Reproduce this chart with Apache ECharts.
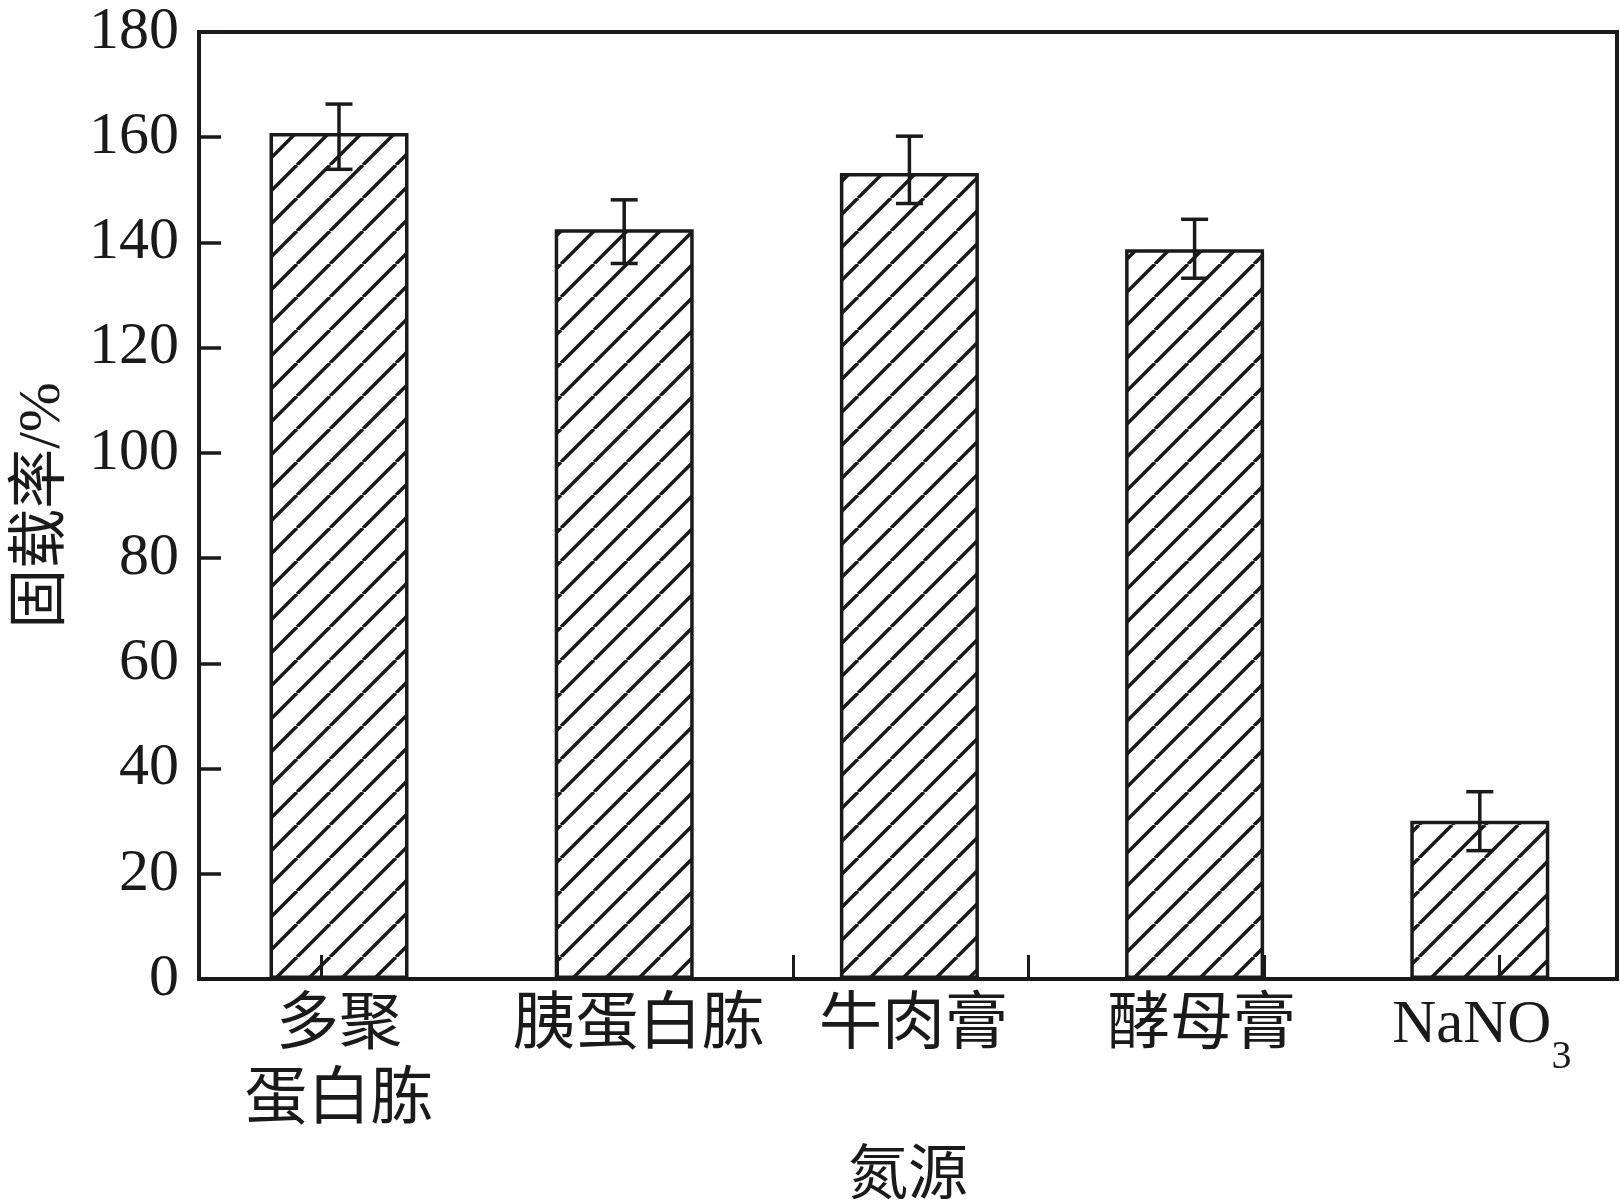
<!DOCTYPE html>
<html><head><meta charset="utf-8">
<script src="https://cdn.jsdelivr.net/npm/echarts@6/dist/echarts.min.js"></script>
<style>html,body{margin:0;padding:0;background:#fff}#c{width:1620px;height:1201px}</style>
</head><body><div id="c"></div>
<script>
// ---- data ----
const categories = ['多聚\n蛋白胨', '胰蛋白胨', '牛肉膏', '酵母膏', 'NaNO3'];
const values = [160.8, 142.5, 153.2, 138.7, 30.1];
const errLow = [153.9, 136.0, 147.4, 133.2, 24.4];
const errHigh = [166.3, 148.1, 160.2, 144.4, 35.6];
const yTicks = [0, 20, 40, 60, 80, 100, 120, 140, 160, 180];
const xName = '氮源';
const yName = '固载率/%';

// ---- styles ----
const INK = '#1a1a1a';
const FONT = "'Liberation Serif','Noto Sans CJK SC',serif";
const TOP = 32, BOTTOM = 222;
const labelShift = [0, 29, 8, 14, 4]; // left padding per category label (layout only)

function hatch() {
  const s = 33, c = document.createElement('canvas');
  c.width = s; c.height = s;
  const g = c.getContext('2d');
  g.strokeStyle = INK; g.lineWidth = 3.5;
  for (const o of [-s, 0, s]) { g.beginPath(); g.moveTo(o, s); g.lineTo(o + s, 0); g.stroke(); }
  return c;
}

const yMin = yTicks[0], yMax = yTicks[yTicks.length - 1];

const rich = {
  s: {fontFamily: FONT, fontSize: 40, lineHeight: 30, padding: [42, 0, 0, 0], color: INK, verticalAlign: 'top'}
};
labelShift.forEach((p, i) => {
  rich['c' + i] = {fontFamily: FONT, fontSize: 63, lineHeight: 75, color: INK, verticalAlign: 'top', padding: [0, 0, 0, p]};
  rich['n' + i] = {fontFamily: FONT, fontSize: 61, lineHeight: 75, color: INK, verticalAlign: 'top', padding: [0, 0, 0, p]};
});

const chart = echarts.init(document.getElementById('c'), null, {renderer: 'canvas'});
chart.setOption({
  backgroundColor: '#fff',
  animation: false,
  grid: [
    {left: 199, right: 3, top: TOP, bottom: BOTTOM, show: true, borderColor: INK, borderWidth: 4, outerBoundsMode: 'none', containLabel: false},
    {left: 321.7, right: 120.3, top: TOP, bottom: BOTTOM, show: false, outerBoundsMode: 'none', containLabel: false},
    {left: 196.4, right: -2.4, top: TOP, bottom: BOTTOM, show: false, outerBoundsMode: 'none', containLabel: false}
  ],
  xAxis: [
    {
      type: 'value', gridIndex: 0, min: 0, max: 1,
      axisLine: {show: true, onZero: false, lineStyle: {color: INK, width: 4}},
      axisTick: {show: false}, axisLabel: {show: false}, splitLine: {show: false},
      name: xName, nameLocation: 'middle', nameGap: 169,
      nameTextStyle: {fontFamily: FONT, fontSize: 60, color: INK}
    },
    {
      type: 'value', gridIndex: 1, min: 0, max: 5, interval: 1,
      axisLine: {show: false}, axisLabel: {show: false}, splitLine: {show: false},
      axisTick: {show: true, inside: true, length: 24, lineStyle: {color: INK, width: 3}}
    },
    {
      type: 'category', data: categories, gridIndex: 2,
      axisLine: {show: false},
      axisTick: {show: false},
      axisLabel: {
        interval: 0, hideOverlap: false,
        margin: 16, color: INK, fontFamily: FONT, fontSize: 63, lineHeight: 75,
        formatter: (v, i) => {
          if (v === 'NaNO3') return '{n' + i + '|NaNO}{s|3}';
          return v.split('\n').map(t => '{c' + i + '|' + t + '}').join('\n');
        },
        rich: rich
      }
    }
  ],
  yAxis: [
    {
      type: 'value', gridIndex: 0, min: yMin, max: yMax, interval: 20,
      axisLine: {show: true, lineStyle: {color: INK, width: 4}},
      axisTick: {show: true, inside: true, length: 22, lineStyle: {color: INK, width: 3.5}},
      splitLine: {show: false},
      axisLabel: {margin: 20, color: INK, fontFamily: FONT, fontSize: 60},
      name: yName, nameLocation: 'middle', nameGap: 126,
      nameTextStyle: {fontFamily: FONT, fontSize: 60, color: INK}
    },
    {type: 'value', gridIndex: 1, show: false, min: 0, max: 1},
    {type: 'value', gridIndex: 2, show: false, min: yMin, max: yMax}
  ],
  series: [
    {
      type: 'bar', xAxisIndex: 2, yAxisIndex: 2, data: values, barWidth: 139,
      itemStyle: {color: {image: hatch(), repeat: 'repeat'}, borderColor: INK, borderWidth: 3.5},
      z: 2
    },
    {
      type: 'custom', xAxisIndex: 2, yAxisIndex: 2, z: 5,
      data: categories.map((c, i) => [i, errLow[i], errHigh[i]]),
      encode: {x: 0, y: [1, 2]},
      renderItem: function (params, api) {
        const i = api.value(0);
        const lo = api.coord([i, api.value(1)]);
        const hi = api.coord([i, api.value(2)]);
        const w = 13.5;
        const st = {stroke: INK, lineWidth: 3.5, fill: null};
        return {type: 'group', children: [
          {type: 'line', shape: {x1: hi[0], y1: hi[1], x2: lo[0], y2: lo[1]}, style: st},
          {type: 'line', shape: {x1: hi[0] - w, y1: hi[1], x2: hi[0] + w, y2: hi[1]}, style: st},
          {type: 'line', shape: {x1: lo[0] - w, y1: lo[1], x2: lo[0] + w, y2: lo[1]}, style: st}
        ]};
      }
    }
  ]
});
</script></body></html>
